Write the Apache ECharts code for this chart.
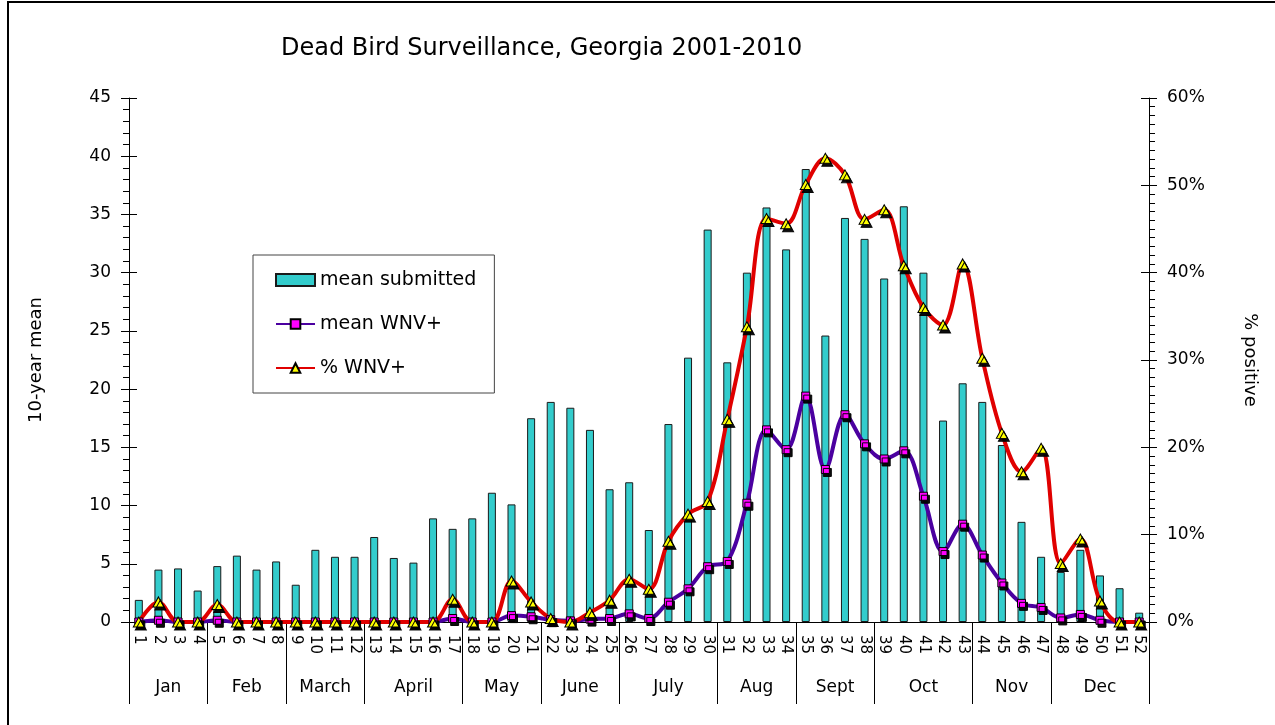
<!DOCTYPE html>
<html>
<head>
<meta charset="utf-8">
<title>Dead Bird Surveillance, Georgia 2001-2010</title>
<script src="https://cdn.jsdelivr.net/npm/echarts@6/dist/echarts.min.js"></script>
<style>
  html, body { margin: 0; padding: 0; background: #fff; }
  #chart { width: 1275px; height: 725px; }
</style>
</head>
<body>
<div id="chart"></div>
<script>
// week numbers 1..52
var weeks = ['1', '2', '3', '4', '5', '6', '7', '8', '9', '10', '11', '12', '13',
  '14', '15', '16', '17', '18', '19', '20', '21', '22', '23', '24', '25', '26',
  '27', '28', '29', '30', '31', '32', '33', '34', '35', '36', '37', '38', '39',
  '40', '41', '42', '43', '44', '45', '46', '47', '48', '49', '50', '51', '52']

var monthNames = ['Jan', 'Feb', 'March', 'April', 'May', 'June', 'July', 'Aug', 'Sept', 'Oct', 'Nov', 'Dec']
var monthWeeks = [4, 4, 4, 5, 4, 4, 5, 4, 4, 5, 4, 5]

// 10-year mean of birds submitted
var meanSubmitted = [1.9, 4.5, 4.6, 2.7, 4.8, 5.7, 4.5, 5.2, 3.2, 6.2, 5.6, 5.6, 7.3,
  5.5, 5.1, 8.9, 8.0, 8.9, 11.1, 10.1, 17.5, 18.9, 18.4, 16.5, 11.4, 12.0,
  7.9, 17.0, 22.7, 33.7, 22.3, 30.0, 35.6, 32.0, 38.9, 24.6, 34.7, 32.9, 29.5,
  35.7, 30.0, 17.3, 20.5, 18.9, 15.2, 8.6, 5.6, 4.3, 6.2, 4.0, 2.9, 0.8]

// 10-year mean of WNV positive birds
var meanWnv = [0, 0.15, 0, 0, 0.15, 0, 0, 0, 0, 0, 0, 0, 0,
  0, 0, 0, 0.3, 0, 0, 0.55, 0.45, 0.2, 0.1, 0.25, 0.3, 0.7,
  0.3, 1.7, 2.85, 4.75, 5.2, 10.2, 16.5, 14.8, 19.4, 13.1, 17.8, 15.3, 14.0,
  14.7, 10.8, 6.05, 8.4, 5.75, 3.35, 1.6, 1.25, 0.35, 0.65, 0.15, 0, 0]

// percent WNV positive
var pctWnv = [0, 2.3, 0, 0, 2.0, 0, 0, 0, 0, 0, 0, 0, 0,
  0, 0, 0, 2.6, 0, 0, 4.7, 2.3, 0.4, 0, 1.1, 2.5, 4.9,
  3.75, 9.25, 12.35, 13.8, 23.2, 33.8, 46.2, 45.6, 50.1, 53.1, 51.2, 46.1, 47.2,
  40.8, 36.0, 34.0, 41.0, 30.2, 21.6, 17.2, 19.9, 6.7, 9.5, 2.4, 0, 0]

// month boundaries and label centres on a 0..52 scale
var monthEdges = [0]
var monthMids = []
for (var i = 0; i < monthWeeks.length; i++) {
  var start = monthEdges[i]
  monthEdges.push(start + monthWeeks[i])
  monthMids.push(start + monthWeeks[i] / 2)
}

var FONT = 'DejaVu Sans'
var markerShadow = {
  shadowColor: 'rgba(0,0,0,0.95)',
  shadowBlur: 0,
  shadowOffsetX: 2,
  shadowOffsetY: 3
}

var myChart = echarts.init(document.getElementById('chart'))
myChart.setOption({
  animation: false,
  backgroundColor: '#fff',
  textStyle: { fontFamily: FONT, color: '#000' },
  title: {
    text: 'Dead Bird Surveillance, Georgia 2001-2010',
    left: 276,
    top: 32,
    textStyle: { fontFamily: FONT, fontSize: 24, fontWeight: 'normal', color: '#000' }
  },
  graphic: [{
    type: 'rect',
    shape: { x: 8, y: 2, width: 1400, height: 900 },
    style: { fill: 'none', stroke: '#000', lineWidth: 2 },
    silent: true
  }],
  legend: {
    orient: 'vertical',
    left: 253,
    top: 255,
    padding: [15, 18, 15, 22],
    itemGap: 24,
    itemWidth: 39,
    itemHeight: 12,
    backgroundColor: '#fff',
    borderColor: '#444',
    borderWidth: 1,
    borderRadius: 0,
    textStyle: { fontFamily: FONT, fontSize: 19, color: '#000', lineHeight: 20 },
    data: [
      { name: 'mean submitted', icon: 'rect' },
      { name: 'mean WNV+' },
      { name: '% WNV+' }
    ]
  },
  grid: {
    left: 129,
    right: 126,
    top: 98,
    bottom: 103
  },
  xAxis: [{
    type: 'category',
    data: weeks,
    boundaryGap: true,
    axisLine: { lineStyle: { color: '#000', width: 1 } },
    axisTick: { length: 32, lineStyle: { color: '#000' } },
    axisLabel: { rotate: -90, margin: 13, fontSize: 15, color: '#000', interval: 0 }
  }, {
    type: 'value',
    min: 0,
    max: 52,
    position: 'bottom',
    offset: 32,
    axisLine: { show: false },
    splitLine: { show: false },
    axisTick: {
      show: true,
      customValues: monthEdges,
      length: 82,
      lineStyle: { color: '#000' }
    },
    axisLabel: {
      customValues: monthMids,
      margin: 25,
      fontSize: 17,
      color: '#000',
      formatter: function (v) {
        var idx = monthMids.indexOf(v)
        return idx >= 0 ? monthNames[idx] : ''
      }
    }
  }],
  yAxis: [{
    type: 'value',
    position: 'left',
    min: 0,
    max: 45,
    interval: 5,
    name: '10-year mean',
    nameLocation: 'middle',
    nameGap: 84,
    nameTextStyle: { fontSize: 18, color: '#000' },
    axisLine: { show: true, lineStyle: { color: '#000' } },
    axisTick: { show: true, length: 8, lineStyle: { color: '#000' } },
    minorTick: { show: true, splitNumber: 5, length: 6, lineStyle: { color: '#000' } },
    splitLine: { show: false },
    axisLabel: { fontSize: 17, color: '#000', margin: 18 }
  }, {
    type: 'value',
    position: 'right',
    min: 0,
    max: 60,
    interval: 10,
    name: '% positive',
    nameLocation: 'middle',
    nameGap: 92,
    nameRotate: -90,
    nameTextStyle: { fontSize: 18, color: '#000' },
    axisLine: { show: true, lineStyle: { color: '#000' } },
    axisTick: { show: true, length: 8, lineStyle: { color: '#000' } },
    minorTick: { show: true, splitNumber: 10, length: 6, lineStyle: { color: '#000' } },
    splitLine: { show: false },
    axisLabel: { fontSize: 17, color: '#000', margin: 18, formatter: '{value}%' }
  }, {
    // inner halves of the major ticks (they cross the axis line)
    type: 'value',
    position: 'left',
    min: 0,
    max: 45,
    interval: 5,
    axisLine: { show: false },
    axisTick: { show: true, inside: true, length: 8, lineStyle: { color: '#000' } },
    axisLabel: { show: false },
    splitLine: { show: false }
  }, {
    type: 'value',
    position: 'right',
    min: 0,
    max: 60,
    interval: 10,
    axisLine: { show: false },
    axisTick: { show: true, inside: true, length: 8, lineStyle: { color: '#000' } },
    axisLabel: { show: false },
    splitLine: { show: false }
  }],
  series: [
    {
      name: 'mean submitted',
      type: 'bar',
      xAxisIndex: 0,
      yAxisIndex: 0,
      barWidth: 8,
      itemStyle: {
        color: '#33CCCC',
        borderColor: '#1a1a1a',
        borderWidth: 1
      },
      data: meanSubmitted
    },
    {
      name: 'mean WNV+',
      type: 'line',
      xAxisIndex: 0,
      yAxisIndex: 0,
      smooth: 0.35,
      symbol: 'rect',
      symbolSize: 8,
      lineStyle: { color: '#4B00A0', width: 4 },
      itemStyle: Object.assign({
        color: '#FF00FF',
        borderColor: '#000',
        borderWidth: 1
      }, markerShadow),
      data: meanWnv
    },
    {
      name: '% WNV+',
      type: 'line',
      xAxisIndex: 0,
      yAxisIndex: 1,
      smooth: 0.35,
      symbol: 'triangle',
      symbolSize: [11, 10],
      lineStyle: { color: '#E00000', width: 4 },
      itemStyle: Object.assign({
        color: '#FFFF00',
        borderColor: '#000',
        borderWidth: 1
      }, markerShadow),
      data: pctWnv
    }
  ]
})
</script>
</body>
</html>
